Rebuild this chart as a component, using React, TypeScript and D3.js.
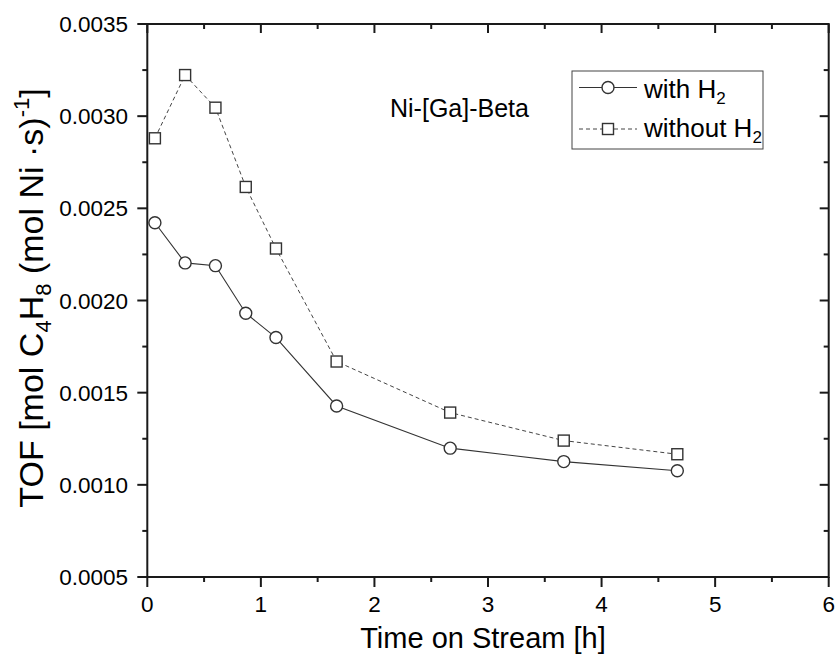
import React from "react";
import * as d3 from "d3";

const timeH = [0.067, 0.333, 0.6, 0.867, 1.133, 1.667, 2.667, 3.667, 4.667];
const withH2 = [0.002422, 0.002204, 0.002189, 0.001931, 0.001799, 0.001428, 0.001199, 0.001126, 0.001076];
const withoutH2 = [0.00288, 0.003223, 0.003046, 0.002616, 0.002282, 0.001669, 0.001392, 0.00124, 0.001166];
const xTicks = [0, 1, 2, 3, 4, 5, 6];
const xMinor = [0.5, 1.5, 2.5, 3.5, 4.5, 5.5];
const yTicks = [0.0005, 0.001, 0.0015, 0.002, 0.0025, 0.003, 0.0035];
const yMinor = [0.00075, 0.00125, 0.00175, 0.00225, 0.00275, 0.00325];

const W = 836, H = 662;
const L = 147.3, R = 828.7, T = 24, B = 577;
const FONT = "'Liberation Sans', Arial, Helvetica, sans-serif";
const INK = "#1a1a1a";
const MARK = "#333";

export default function App() {
  const x = d3.scaleLinear().domain([0, 6]).range([L, R]);
  const y = d3.scaleLinear().domain([0.0005, 0.0035]).range([B, T]);
  const line = d3.line<number>().x((_, i) => x(timeH[i])).y((d) => y(d));
  const fmt = d3.format(".4f");

  return (
    <svg width={W} height={H} style={{ position: "absolute", left: 0, top: 0, background: "#fff" }} fontFamily={FONT}>
      <rect x={0} y={0} width={W} height={H} fill="#fff" />
      {/* data lines */}
      <path d={line(withoutH2) || ""} fill="none" stroke="#444" strokeWidth={1} strokeDasharray="4,3" />
      <path d={line(withH2) || ""} fill="none" stroke="#333" strokeWidth={1.1} />
      {withoutH2.map((v, i) => (
        <rect key={"s" + i} x={x(timeH[i]) - 5.5} y={y(v) - 5.5} width={11} height={11} fill="#fff" stroke={MARK} strokeWidth={1.4} />
      ))}
      {withH2.map((v, i) => (
        <circle key={"c" + i} cx={x(timeH[i])} cy={y(v)} r={6} fill="#fff" stroke={MARK} strokeWidth={1.4} />
      ))}

      {/* frame */}
      <rect x={L} y={T} width={R - L} height={B - T} fill="none" stroke={INK} strokeWidth={2} />

      {/* x ticks bottom & top */}
      {xTicks.map((t) => (
        <g key={"xt" + t}>
          <line x1={x(t)} x2={x(t)} y1={B} y2={B + 10} stroke={INK} strokeWidth={2} />
          <line x1={x(t)} x2={x(t)} y1={T} y2={T + 9} stroke={INK} strokeWidth={2} />
          <text x={x(t)} y={612} textAnchor="middle" fontSize={22.5} fill="#000">{t}</text>
        </g>
      ))}
      {xMinor.map((t) => (
        <g key={"xm" + t}>
          <line x1={x(t)} x2={x(t)} y1={B} y2={B + 5} stroke={INK} strokeWidth={2} />
          <line x1={x(t)} x2={x(t)} y1={T} y2={T + 5} stroke={INK} strokeWidth={2} />
        </g>
      ))}
      {/* y ticks left & right */}
      {yTicks.map((t) => (
        <g key={"yt" + t}>
          <line x1={L - 10} x2={L} y1={y(t)} y2={y(t)} stroke={INK} strokeWidth={2} />
          <line x1={R - 9} x2={R} y1={y(t)} y2={y(t)} stroke={INK} strokeWidth={2} />
          <text x={128} y={y(t) + 8} textAnchor="end" fontSize={22.5} fill="#000">{fmt(t)}</text>
        </g>
      ))}
      {yMinor.map((t) => (
        <g key={"ym" + t}>
          <line x1={L - 5} x2={L} y1={y(t)} y2={y(t)} stroke={INK} strokeWidth={2} />
          <line x1={R - 5} x2={R} y1={y(t)} y2={y(t)} stroke={INK} strokeWidth={2} />
        </g>
      ))}

      {/* axis titles */}
      <text x={483} y={648} textAnchor="middle" fontSize={29} fill="#000">Time on Stream [h]</text>
      <text transform={`translate(43, 298) rotate(-90)`} textAnchor="middle" fontSize={34} fill="#000">
        TOF [mol C<tspan fontSize={22} dy={8}>4</tspan><tspan dy={-8}>H</tspan><tspan fontSize={22} dy={8}>8</tspan><tspan dy={-8}> (mol Ni ·s)</tspan><tspan fontSize={22} dy={-14}>-1</tspan><tspan dy={14}>]</tspan>
      </text>

      {/* annotation */}
      <text x={390} y={117} fontSize={25} fill="#000">Ni-[Ga]-Beta</text>

      {/* legend */}
      <rect x={572} y={71} width={191} height={78} fill="#fff" stroke="#444" strokeWidth={1} />
      <line x1={579} x2={637} y1={87.5} y2={87.5} stroke="#333" strokeWidth={1.1} />
      <circle cx={608} cy={87.5} r={6} fill="#fff" stroke={MARK} strokeWidth={1.4} />
      <text x={644} y={98} fontSize={26} fill="#000">with H<tspan fontSize={17} dy={6}>2</tspan></text>
      <line x1={579} x2={637} y1={129} y2={129} stroke="#444" strokeWidth={1} strokeDasharray="4,3" />
      <rect x={602.5} y={123.5} width={11} height={11} fill="#fff" stroke={MARK} strokeWidth={1.4} />
      <text x={644} y={137} fontSize={26} fill="#000">without H<tspan fontSize={17} dy={6}>2</tspan></text>
    </svg>
  );
}
